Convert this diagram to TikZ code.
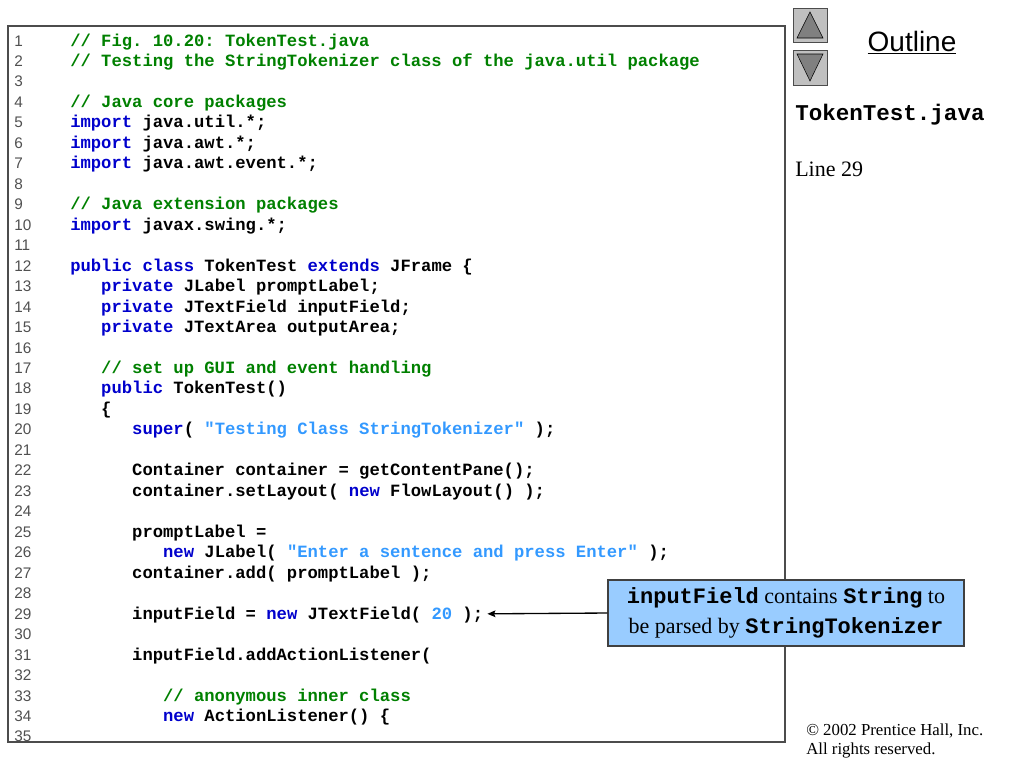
\documentclass[tikz,border=0pt]{standalone}
\usepackage{fontspec}
\setmainfont{Liberation Serif}
\setsansfont{Liberation Sans}
\setmonofont{Liberation Mono}
\usepackage{xcolor}
\usepackage{tikz}
\usetikzlibrary{arrows.meta,positioning}
\definecolor{jgreen}{RGB}{0,128,0}
\definecolor{jblue}{RGB}{0,0,204}
\definecolor{jlight}{RGB}{51,153,255}
\definecolor{jnum}{RGB}{80,80,80}
\definecolor{notefill}{RGB}{153,204,255}
\definecolor{btnfill}{RGB}{192,192,192}
\definecolor{btntri}{RGB}{128,128,128}
\newcommand{\jkw}[1]{\textcolor{jblue}{#1}}
\newcommand{\jcm}[1]{\textcolor{jgreen}{#1}}
\newcommand{\jstr}[1]{\textcolor{jlight}{#1}}
\newcommand{\jtt}[1]{{\ttfamily\bfseries #1}}
\newcommand{\ly}[1]{46+(#1-1)*20.47}
\newcommand{\cx}[1]{70+#1*10.32}
\tikzset{
  codeline/.style={anchor=base west,inner sep=0pt,font=\ttfamily\bfseries\fontsize{12.9}{15}\selectfont},
  lnum/.style={anchor=base west,inner sep=0pt,text=jnum,font=\sffamily\fontsize{11.5}{13}\selectfont},
  note/.style={draw=black!75,fill=notefill,line width=0.8pt,minimum width=267pt,minimum height=49.5pt,
    align=center,inner sep=0pt,font=\fontsize{16.5}{22.5}\selectfont},
  arrow/.style={line width=1pt,-{Stealth[length=6pt,width=5pt,inset=1pt]}}
}
\begin{document}
\begin{tikzpicture}[x=0.75pt,y=-0.75pt]
          \useasboundingbox (0,0) rectangle (1024,768);
          % code listing
          \foreach \i in {1,...,35}
            \node[lnum] (n\i) at (14,{\ly{\i}}) {\i};
          \node[codeline] (c1) at (70,{\ly{1}}) {\jcm{// Fig. 10.20: TokenTest.java}};
          \node[codeline] (c2) at (70,{\ly{2}}) {\jcm{// Testing the StringTokenizer class of the java.util package}};
          \node[codeline] (c4) at (70,{\ly{4}}) {\jcm{// Java core packages}};
          \node[codeline] (c5) at (70,{\ly{5}}) {\jkw{import} java.util.*;};
          \node[codeline] (c6) at (70,{\ly{6}}) {\jkw{import} java.awt.*;};
          \node[codeline] (c7) at (70,{\ly{7}}) {\jkw{import} java.awt.event.*;};
          \node[codeline] (c9) at (70,{\ly{9}}) {\jcm{// Java extension packages}};
          \node[codeline] (c10) at (70,{\ly{10}}) {\jkw{import} javax.swing.*;};
          \node[codeline] (c12) at (70,{\ly{12}}) {\jkw{public class} TokenTest \jkw{extends} JFrame \{};
          \node[codeline] (c13) at ({\cx{3}},{\ly{13}}) {\jkw{private} JLabel promptLabel;};
          \node[codeline] (c14) at ({\cx{3}},{\ly{14}}) {\jkw{private} JTextField inputField;};
          \node[codeline] (c15) at ({\cx{3}},{\ly{15}}) {\jkw{private} JTextArea outputArea;};
          \node[codeline] (c17) at ({\cx{3}},{\ly{17}}) {\jcm{// set up GUI and event handling}};
          \node[codeline] (c18) at ({\cx{3}},{\ly{18}}) {\jkw{public} TokenTest()};
          \node[codeline] (c19) at ({\cx{3}},{\ly{19}}) {\{};
          \node[codeline] (c20) at ({\cx{6}},{\ly{20}}) {\jkw{super}( \jstr{"Testing Class StringTokenizer"} );};
          \node[codeline] (c22) at ({\cx{6}},{\ly{22}}) {Container container = getContentPane();};
          \node[codeline] (c23) at ({\cx{6}},{\ly{23}}) {container.setLayout( \jkw{new} FlowLayout() );};
          \node[codeline] (c25) at ({\cx{6}},{\ly{25}}) {promptLabel =};
          \node[codeline] (c26) at ({\cx{9}},{\ly{26}}) {\jkw{new} JLabel( \jstr{"Enter a sentence and press Enter"} );};
          \node[codeline] (c27) at ({\cx{6}},{\ly{27}}) {container.add( promptLabel );};
          \node[codeline] (c29) at ({\cx{6}},{\ly{29}}) {inputField = \jkw{new} JTextField( \jstr{20} );};
          \node[codeline] (c31) at ({\cx{6}},{\ly{31}}) {inputField.addActionListener(};
          \node[codeline] (c33) at ({\cx{9}},{\ly{33}}) {\jcm{// anonymous inner class}};
          \node[codeline] (c34) at ({\cx{9}},{\ly{34}}) {\jkw{new} ActionListener() \{};
          \draw[black!70,line width=1.2pt] (8,26) rectangle (785,742);
          % outline panel
          \draw[black!70,fill=btnfill] (793,8) rectangle (827,42);
          \draw[black,fill=btntri] (797,38) -- (823,38) -- (810,12) -- cycle;
          \draw[black!70,fill=btnfill] (793,50) rectangle (827,85);
          \draw[black,fill=btntri] (797,54) -- (823,54) -- (810,81) -- cycle;
          \node[anchor=base,inner sep=0pt,font=\sffamily\fontsize{21}{24}\selectfont] (outline) at (912,51) {\underline{Outline}};
          \node[anchor=base west,inner sep=0pt,font=\ttfamily\bfseries\fontsize{16.9}{20}\selectfont] (file) at (795,120) {TokenTest.java};
          \node[anchor=base west,inner sep=0pt,font=\fontsize{16.5}{20}\selectfont] (line) at (795,176) {Line 29};
          \node[anchor=base west,inner sep=0pt,font=\fontsize{12.6}{14}\selectfont] (copy1) at (806,735) {\textcopyright\ 2002 Prentice Hall, Inc.};
          \node[anchor=base west,inner sep=0pt,font=\fontsize{12.6}{14}\selectfont] (copy2) at (806,754) {All rights reserved.};
          % callout
          \node[note] (note) at (786,613) {\jtt{inputField} contains \jtt{String} to\\be parsed by \jtt{StringTokenizer}};
          \draw[arrow] (note.west) -- ([xshift=3pt,yshift=4pt]c29.base east);
\end{tikzpicture}
\end{document}
